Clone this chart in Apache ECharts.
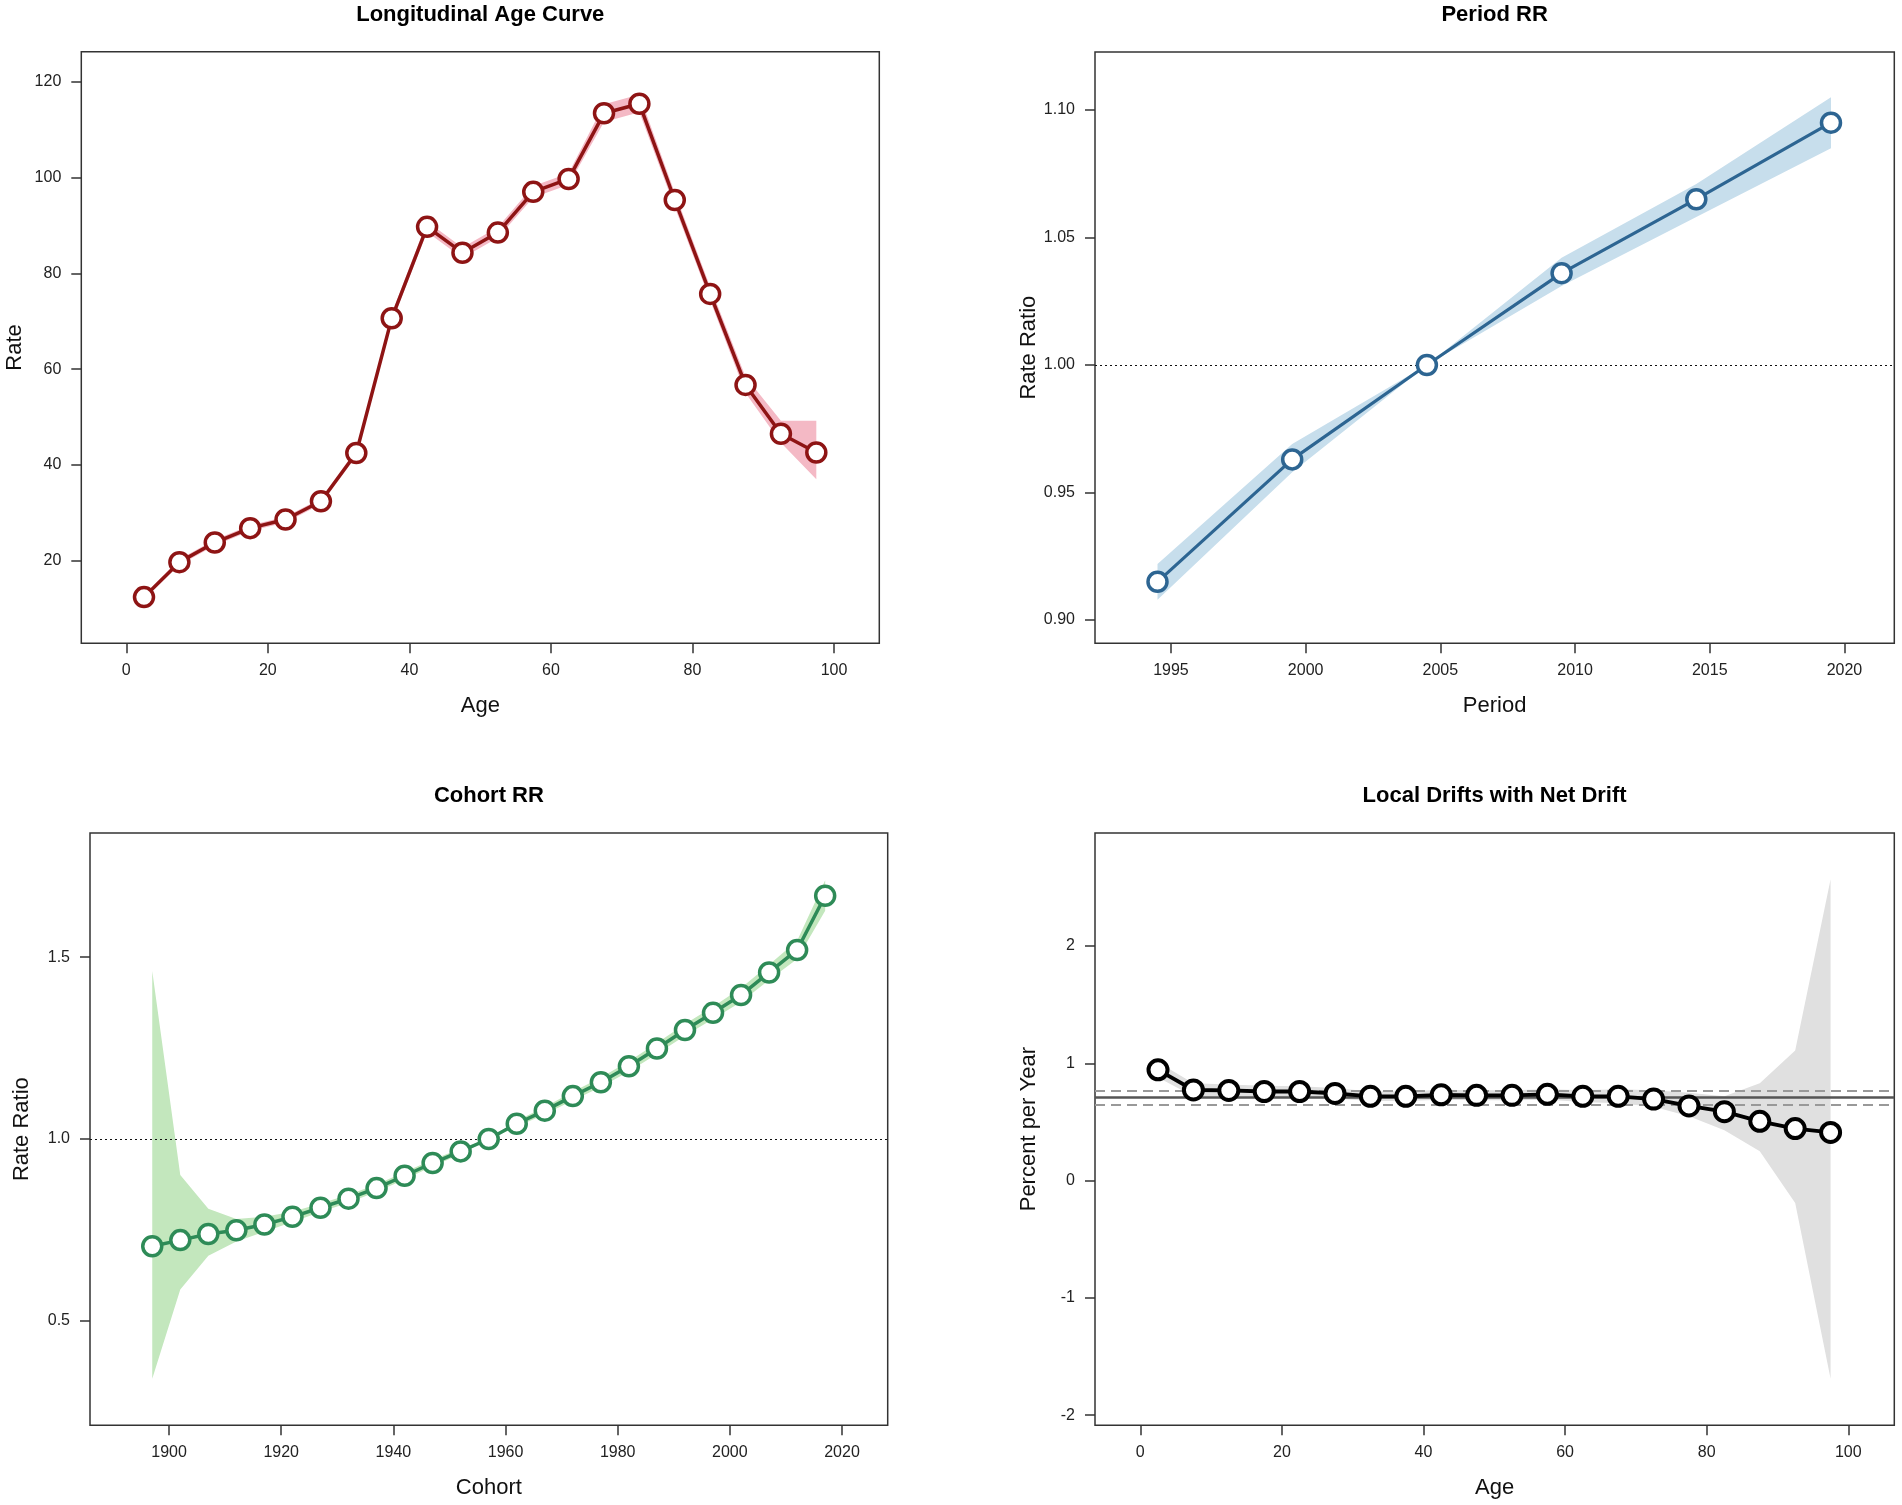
<!DOCTYPE html>
<html>
<head>
<meta charset="utf-8">
<script src="https://cdn.jsdelivr.net/npm/echarts@6/dist/echarts.min.js"></script>
<style>
html,body{margin:0;padding:0;background:#fff;}
#chart{width:1902px;height:1505px;}
</style>
</head>
<body>
<div id="chart"></div>
<script>
// ---------- data ----------
const ageMid = [2.5,7.5,12.5,17.5,22.5,27.5,32.5,37.5,42.5,47.5,52.5,57.5,62.5,67.5,72.5,77.5,82.5,87.5,92.5,97.5];
const ageRate = [12.4,19.7,23.8,26.8,28.6,32.4,42.5,70.6,89.7,84.3,88.5,97.0,99.7,113.4,115.4,95.3,75.7,56.7,46.5,42.6];
const ageLo = [11.9,19.1,23.2,26.2,28.0,31.8,41.8,69.6,88.6,83.2,87.4,95.8,98.5,111.6,113.6,93.8,74.3,55.0,44.6,37.0];
const ageHi = [12.9,20.3,24.4,27.4,29.2,33.0,43.2,71.6,90.8,85.4,89.6,98.2,100.9,115.3,117.3,96.8,77.2,58.4,49.2,49.2];

const periodMid = [1994.5,1999.5,2004.5,2009.5,2014.5,2019.5];
const periodRR = [0.915,0.963,1.000,1.036,1.065,1.095];
const periodLo = [0.908,0.958,1.000,1.031,1.058,1.085];
const periodHi = [0.922,0.969,1.000,1.042,1.071,1.105];

const cohortMid = [1897,1902,1907,1912,1917,1922,1927,1932,1937,1942,1947,1952,1957,1962,1967,1972,1977,1982,1987,1992,1997,2002,2007,2012,2017];
const cohortRR = [0.705,0.722,0.739,0.749,0.765,0.786,0.811,0.836,0.865,0.899,0.934,0.966,1.000,1.042,1.078,1.118,1.156,1.200,1.249,1.300,1.347,1.396,1.458,1.520,1.669];
const cohortLo = [0.341,0.586,0.679,0.718,0.745,0.772,0.799,0.825,0.855,0.889,0.925,0.958,1.000,1.034,1.068,1.106,1.143,1.186,1.234,1.284,1.330,1.377,1.437,1.495,1.628];
const cohortHi = [1.462,0.901,0.808,0.780,0.786,0.800,0.823,0.847,0.875,0.909,0.943,0.974,1.000,1.050,1.088,1.130,1.169,1.214,1.264,1.316,1.364,1.415,1.479,1.545,1.712];

const driftAge = [2.5,7.5,12.5,17.5,22.5,27.5,32.5,37.5,42.5,47.5,52.5,57.5,62.5,67.5,72.5,77.5,82.5,87.5,92.5,97.5];
const localDrift = [0.945,0.773,0.769,0.760,0.760,0.744,0.719,0.719,0.732,0.727,0.727,0.736,0.719,0.719,0.695,0.637,0.588,0.506,0.444,0.411];
const driftLo = [0.88,0.72,0.72,0.71,0.715,0.70,0.68,0.68,0.69,0.685,0.685,0.69,0.67,0.66,0.63,0.55,0.43,0.25,-0.19,-1.69];
const driftHi = [1.01,0.83,0.82,0.81,0.805,0.79,0.76,0.76,0.775,0.77,0.77,0.78,0.77,0.78,0.77,0.75,0.72,0.83,1.11,2.57];
const netDrift = [0.711, 0.652, 0.765]; // estimate, lower CI, upper CI

// ---------- ticks ----------
const ageTicks = [0,20,40,60,80,100];
const rateTicks = [20,40,60,80,100,120];
const periodTicks = [1995,2000,2005,2010,2015,2020];
const periodRRTicks = [0.90,0.95,1.00,1.05,1.10];
const cohortTicks = [1900,1920,1940,1960,1980,2000,2020];
const cohortRRTicks = [0.5,1.0,1.5];
const driftTicks = [-2,-1,0,1,2];

// ---------- helpers ----------
const FONT = "'Liberation Sans', Arial, Helvetica, sans-serif";
const AX = '#333';
const zip = (xs, ys) => xs.map((x, i) => [x, ys[i]]);

function xAx(idx, min, max, ticks, name, fmt) {
  return {
    type: 'value', gridIndex: idx, min: min, max: max,
    name: name, nameLocation: 'middle', nameGap: 52,
    nameTextStyle: {fontFamily: FONT, fontSize: 22, color: '#111'},
    axisLine: {show: false, onZero: false},
    axisTick: {show: true, length: 10, customValues: ticks, lineStyle: {color: AX, width: 1.5}},
    axisLabel: {show: true, customValues: ticks, margin: 19, fontFamily: FONT, fontSize: 16, color: '#222',
      formatter: fmt || (v => String(v))},
    splitLine: {show: false}
  };
}
function yAx(idx, min, max, ticks, name, fmt, gap) {
  return {
    type: 'value', gridIndex: idx, min: min, max: max,
    name: name, nameLocation: 'middle', nameGap: gap, nameRotate: 90,
    nameTextStyle: {fontFamily: FONT, fontSize: 22, color: '#111'},
    axisLine: {show: false, onZero: false},
    axisTick: {show: true, length: 10, customValues: ticks, lineStyle: {color: AX, width: 1.5}},
    axisLabel: {show: true, customValues: ticks, margin: 20, fontFamily: FONT, fontSize: 16, color: '#222',
      formatter: fmt || (v => String(v))},
    splitLine: {show: false}
  };
}
// confidence band as one polygon, positioned through the axes (api.coord)
function band(idx, xs, lo, hi, color) {
  return {
    type: 'custom', xAxisIndex: idx, yAxisIndex: idx, silent: true, z: 1, clip: true,
    data: xs.map((x, i) => [x, lo[i], hi[i]]),
    encode: {x: 0, y: [1, 2]},
    renderItem: function (params, api) {
      if (params.dataIndex !== 0) return null;
      const pts = [];
      for (let i = 0; i < xs.length; i++) pts.push(api.coord([xs[i], hi[i]]));
      for (let i = xs.length - 1; i >= 0; i--) pts.push(api.coord([xs[i], lo[i]]));
      return {type: 'polygon', shape: {points: pts}, style: {fill: color, stroke: null}};
    }
  };
}
function refLines(idx, xs, ys, lines) {
  return {
    type: 'line', xAxisIndex: idx, yAxisIndex: idx, data: zip(xs, ys), z: 2,
    symbol: 'none', silent: true, lineStyle: {opacity: 0, width: 0},
    markLine: {silent: true, symbol: ['none', 'none'], label: {show: false}, animation: false, data: lines}
  };
}
function main(idx, xs, ys, color, lw, bw) {
  return {
    type: 'line', xAxisIndex: idx, yAxisIndex: idx, data: zip(xs, ys),
    symbol: 'circle', symbolSize: 19, showSymbol: true, z: 5,
    lineStyle: {color: color, width: lw},
    itemStyle: {color: '#ffffff', borderColor: color, borderWidth: bw || 3.5, opacity: 1}
  };
}
const dottedOne = [{yAxis: 1, lineStyle: {type: [2, 3], color: '#111', width: 1.2}}];
const netLines = [
  {yAxis: netDrift[0], lineStyle: {type: 'solid', color: '#555', width: 2.6}},
  {yAxis: netDrift[1], lineStyle: {type: [10, 6], color: '#999', width: 2.2}},
  {yAxis: netDrift[2], lineStyle: {type: [10, 6], color: '#999', width: 2.2}}
];

const grids = [
  {left: 81.3, top: 51.7, width: 798, height: 591.6},
  {left: 1095, top: 52, width: 799.3, height: 591.3},
  {left: 90, top: 833, width: 797.7, height: 592.3},
  {left: 1095, top: 833, width: 799.3, height: 592.3}
].map(g => Object.assign(g, {show: true, borderColor: AX, borderWidth: 1.5, backgroundColor: 'transparent'}));

const titles = [
  ['Longitudinal Age Curve', 480.3, 14.6],
  ['Period RR', 1494.6, 14.6],
  ['Cohort RR', 488.9, 796],
  ['Local Drifts with Net Drift', 1494.6, 796]
];

const chart = echarts.init(document.getElementById('chart'), null, {renderer: 'canvas'});
chart.setOption({
  animation: false,
  backgroundColor: '#ffffff',
  grid: grids,
  graphic: titles.map(t => ({
    type: 'text', x: t[1], y: t[2],
    style: {text: t[0], fill: '#000', font: 'bold 22px ' + FONT, textAlign: 'center', textVerticalAlign: 'middle'}
  })),
  xAxis: [
    xAx(0, -6.36, 106.4, ageTicks, 'Age'),
    xAx(1, 1992.18, 2021.85, periodTicks, 'Period'),
    xAx(2, 1885.9, 2028.15, cohortTicks, 'Cohort'),
    xAx(3, -6.4, 106.5, ageTicks, 'Age')
  ],
  yAxis: [
    yAx(0, 2.76, 126.26, rateTicks, 'Rate', null, 55),
    yAx(1, 0.8909, 1.1227, periodRRTicks, 'Rate Ratio', v => v.toFixed(2), 55),
    yAx(2, 0.2127, 1.8416, cohortRRTicks, 'Rate Ratio', v => v.toFixed(1), 57),
    yAx(3, -2.086, 2.964, driftTicks, 'Percent per Year', null, 55)
  ],
  series: [
    band(0, ageMid, ageLo, ageHi, '#F4B9C5'),
    main(0, ageMid, ageRate, '#8E1414', 3.5),
    band(1, periodMid, periodLo, periodHi, '#C7DEEC'),
    refLines(1, periodMid, periodRR, dottedOne),
    main(1, periodMid, periodRR, '#2D6592', 3.2),
    band(2, cohortMid, cohortLo, cohortHi, '#C3E7BD'),
    refLines(2, cohortMid, cohortRR, dottedOne),
    main(2, cohortMid, cohortRR, '#2E8B57', 3.5),
    band(3, driftAge, driftLo, driftHi, '#E0E0E0'),
    refLines(3, driftAge, localDrift, netLines),
    main(3, driftAge, localDrift, '#000000', 3.8, 4)
  ]
});
</script>
</body>
</html>
